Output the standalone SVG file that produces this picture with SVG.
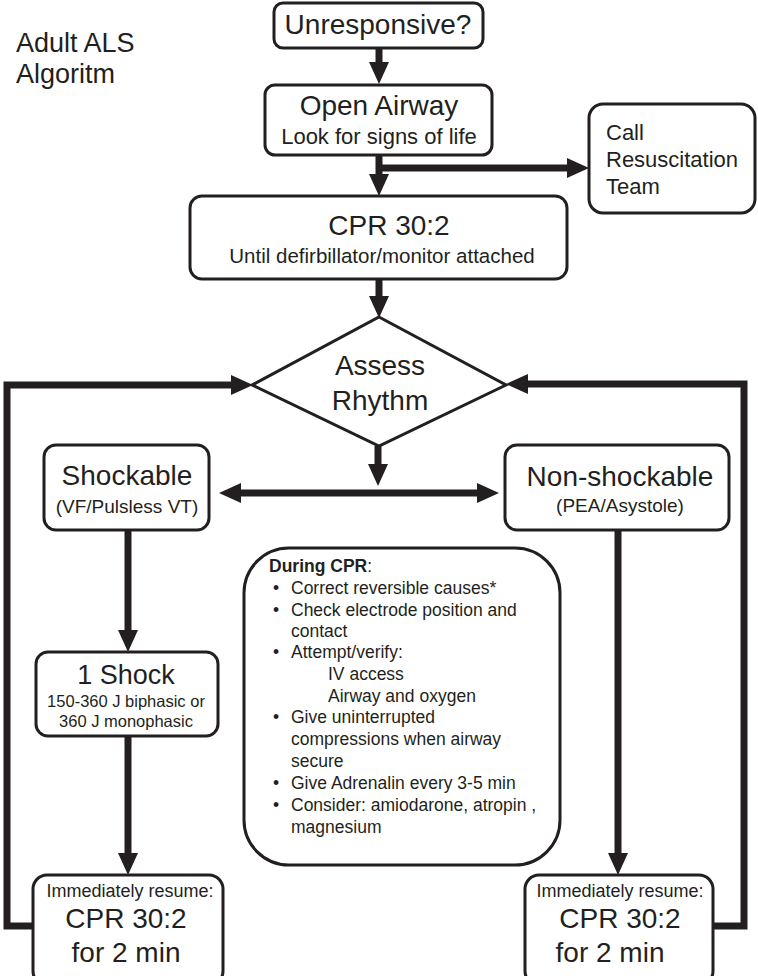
<svg xmlns="http://www.w3.org/2000/svg" width="758" height="976" viewBox="0 0 758 976">
<style>
.box{fill:#fff;stroke:#231f20;stroke-width:3}
.t{font-family:"Liberation Sans",Arial,sans-serif;fill:#231f20}
.c{text-anchor:middle}
.big{font-size:28px}
.med{font-size:21px}
.sm{font-size:18px}
.xs{font-size:16.5px}
.list{font-size:17.5px}
.conn{fill:none;stroke:#231f20;stroke-width:7;stroke-linejoin:miter}
</style>
<defs>
<marker id="ah" markerUnits="userSpaceOnUse" markerWidth="22" markerHeight="20" refX="0" refY="10" orient="auto-start-reverse" viewBox="0 0 22 20">
<path d="M0,0 L22,10 L0,20 z" fill="#231f20"/>
</marker>
</defs>
<rect width="758" height="976" fill="#fff"/>
<g id="title">
<text class="t" x="16" y="52" font-size="27">Adult ALS</text>
<text class="t" x="16" y="83" font-size="27">Algoritm</text>
</g>
<g id="connectors">
<line class="conn" x1="379" y1="48" x2="379" y2="62" marker-end="url(#ah)"/>
<line class="conn" x1="379" y1="155" x2="379" y2="174" marker-end="url(#ah)"/>
<line class="conn" x1="376" y1="168" x2="567" y2="168" marker-end="url(#ah)"/>
<line class="conn" x1="379" y1="279" x2="379" y2="296" marker-end="url(#ah)"/>
<line class="conn" x1="378" y1="446" x2="378" y2="464" marker-end="url(#ah)"/>
<line class="conn" x1="241" y1="493" x2="477" y2="493" marker-start="url(#ah)" marker-end="url(#ah)"/>
<line class="conn" x1="128" y1="530" x2="128" y2="630" marker-end="url(#ah)"/>
<line class="conn" x1="128" y1="736" x2="128" y2="853" marker-end="url(#ah)"/>
<line class="conn" x1="618" y1="530" x2="618" y2="853" marker-end="url(#ah)"/>
<path class="conn" d="M34,926 H7 V385 H231" marker-end="url(#ah)"/>
<path class="conn" d="M712,926 H744 V384 H528" marker-end="url(#ah)"/>
</g>
<g id="unresponsive">
<rect class="box" x="274" y="3" width="209" height="45" rx="9"/>
<text class="t c big" x="378" y="34">Unresponsive?</text>
</g>
<g id="open-airway">
<rect class="box" x="265" y="85" width="227" height="70" rx="10"/>
<text class="t c big" x="379" y="115">Open Airway</text>
<text class="t c" x="379" y="144" font-size="22">Look for signs of life</text>
</g>
<g id="call-team">
<rect class="box" x="589" y="104" width="166" height="109" rx="14"/>
<text class="t" x="606" y="140" font-size="22">Call</text>
<text class="t" x="606" y="167" font-size="22">Resuscitation</text>
<text class="t" x="606" y="194" font-size="22">Team</text>
</g>
<g id="cpr">
<rect class="box" x="190" y="196" width="377" height="83" rx="12"/>
<text class="t c" x="389" y="235" font-size="28">CPR 30:2</text>
<text class="t c" x="382" y="263" font-size="20.5">Until defirbillator/monitor attached</text>
</g>
<g id="assess">
<polygon class="box" points="379,317 506,385 379,446 252,385"/>
<text class="t c big" x="380" y="375">Assess</text>
<text class="t c big" x="380" y="410">Rhythm</text>
</g>
<g id="shockable">
<rect class="box" x="44" y="445" width="165" height="85" rx="12"/>
<text class="t c big" x="127" y="485">Shockable</text>
<text class="t c" x="127" y="513" font-size="19">(VF/Pulsless VT)</text>
</g>
<g id="non-shockable">
<rect class="box" x="505" y="445" width="224" height="85" rx="12"/>
<text class="t c big" x="620" y="486">Non-shockable</text>
<text class="t c" x="620" y="512" font-size="19">(PEA/Asystole)</text>
</g>
<g id="one-shock">
<rect class="box" x="36" y="652" width="182" height="84" rx="12"/>
<text class="t c" x="126" y="684" font-size="27">1 Shock</text>
<text class="t c xs" x="126" y="707">150-360 J biphasic or</text>
<text class="t c xs" x="126" y="727">360 J monophasic</text>
</g>
<g id="during-cpr">
<rect class="box" x="244" y="548" width="316" height="317" rx="45"/>
<text class="t list" x="269" y="572"><tspan font-weight="bold">During CPR</tspan>:</text>
<g class="t list">
<text x="273" y="594">•</text><text x="291" y="594">Correct reversible causes*</text>
<text x="273" y="616">•</text><text x="291" y="616">Check electrode position and</text>
<text x="291" y="637">contact</text>
<text x="273" y="658">•</text><text x="291" y="658">Attempt/verify:</text>
<text x="328" y="680">IV access</text>
<text x="328" y="702">Airway and oxygen</text>
<text x="273" y="723">•</text><text x="291" y="723">Give uninterrupted</text>
<text x="291" y="745">compressions when airway</text>
<text x="291" y="767">secure</text>
<text x="273" y="789">•</text><text x="291" y="789">Give Adrenalin every 3-5 min</text>
<text x="273" y="811">•</text><text x="291" y="811">Consider: amiodarone, atropin ,</text>
<text x="291" y="833">magnesium</text>
</g>
</g>
<g id="resume-left">
<rect class="box" x="33" y="875" width="190" height="110" rx="14"/>
<text class="t c" x="130" y="897" font-size="18">Immediately resume:</text>
<text class="t c" x="126" y="928" font-size="28">CPR 30:2</text>
<text class="t c" x="126" y="962" font-size="28">for 2 min</text>
</g>
<g id="resume-right">
<rect class="box" x="525" y="875" width="188" height="110" rx="14"/>
<text class="t c" x="620" y="897" font-size="18">Immediately resume:</text>
<text class="t c" x="620" y="928" font-size="28">CPR 30:2</text>
<text class="t c" x="610" y="962" font-size="28">for 2 min</text>
</g>
</svg>
